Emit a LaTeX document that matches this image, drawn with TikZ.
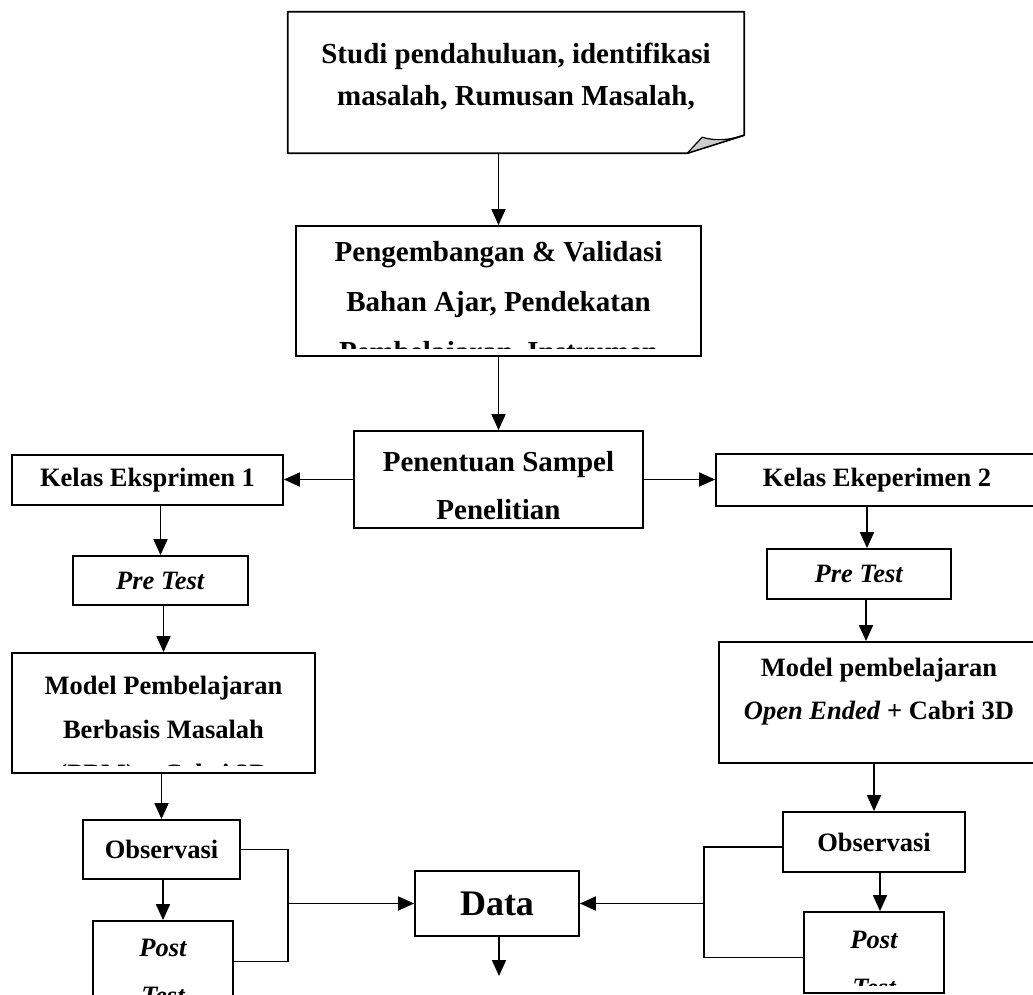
\documentclass[tikz,border=0pt]{standalone}
\usepackage{fontspec}
\setmainfont{Liberation Serif}
\usetikzlibrary{arrows.meta,positioning}
\tikzset{
  kotak/.style={draw,rectangle,line width=1.8pt,inner sep=0pt},
  garis/.style={line width=1.8pt},
  huruf/.style={font=\bfseries\fontsize{26.5}{44}\selectfont,align=center},
  judul/.style={font=\bfseries\fontsize{29}{48}\selectfont,align=center},
  isi/.style n args={3}{path picture={
      \clip ([yshift=8pt]path picture bounding box.south west) rectangle (path picture bounding box.north east);
      \node[#2] at ([yshift=#1]path picture bounding box.center) {#3};}}
}

\begin{document}
\begin{tikzpicture}[x=1pt,y=-1pt,>={Triangle[length=16pt,width=14pt]}]
        \clip (0,0) rectangle (1033,994);
        % kotak atas, sudut terlipat
        \node[minimum width=456pt,minimum height=141pt] (studi) at (516,82.5) {};
        \node[judul,font=\bfseries\fontsize{29}{42}\selectfont] (studitxt) at (516,77)
          {Studi pendahuluan, identifikasi\\masalah, Rumusan Masalah,};
        \draw[garis,line join=round] (studi.north west) -- (studi.north east)
          -- ([yshift=18pt]studi.south east) -- ([xshift=-57pt]studi.south east)
          -- (studi.south west) -- cycle;
        \filldraw[line width=1.2pt,fill=gray!40,line join=round] ([xshift=-57pt]studi.south east)
          -- ([xshift=-42pt,yshift=16pt]studi.south east)
          .. controls ([xshift=-30pt,yshift=12pt]studi.south east) and ([xshift=-14pt,yshift=13pt]studi.south east)
          .. ([yshift=18pt]studi.south east) -- cycle;

        \node[kotak,minimum width=405pt,minimum height=130pt,
          isi={-14pt}{judul,font=\bfseries\fontsize{29}{50}\selectfont}{Pengembangan \& Validasi\\Bahan Ajar, Pendekatan\\Pembelajaran, Instrumen}] (kembang) at (498.5,291) {};
        \node[kotak,minimum width=289pt,minimum height=97pt,
          isi={-6pt}{judul}{Penentuan Sampel\\Penelitian}] (sampel) at (498.5,479.5) {};

        % kelas eksperimen 1
        \node[kotak,huruf,minimum width=271pt,minimum height=50pt] (kelas1) at (147.5,480) {Kelas Eksprimen 1};
        \node[kotak,huruf,minimum width=175pt,minimum height=49pt] (pre1) at (160.5,580.5) {\textit{Pre Test}};
        \node[kotak,minimum width=303pt,minimum height=120pt,
          isi={-19pt}{huruf}{Model Pembelajaran\\Berbasis Masalah\\(PBM) + Cabri 3D}] (model1) at (163.5,713) {};
        \node[kotak,huruf,minimum width=157pt,minimum height=59pt] (obs1) at (161.5,849.5) {Observasi};
        \node[kotak,minimum width=140pt,minimum height=81pt,
          isi={-10pt}{huruf,font=\bfseries\itshape\fontsize{26.5}{48}\selectfont}{Post\\Test}] (post1) at (163,961.5) {};

        % kelas eksperimen 2
        \node[kotak,huruf,minimum width=322pt,minimum height=52pt] (kelas2) at (877,480) {Kelas Ekeperimen 2};
        \node[kotak,huruf,minimum width=184pt,minimum height=50pt] (pre2) at (859,574) {\textit{Pre Test}};
        \node[kotak,minimum width=320pt,minimum height=121pt,
          isi={11pt}{huruf,font=\bfseries\fontsize{26.5}{43}\selectfont}{Model pembelajaran\\\textit{Open Ended} + Cabri 3D}] (model2) at (879,702.5) {};
        \node[kotak,huruf,minimum width=182pt,minimum height=60pt] (obs2) at (874,842) {Observasi};
        \node[kotak,minimum width=140pt,minimum height=81pt,
          isi={-11pt}{huruf,font=\bfseries\itshape\fontsize{26.5}{48}\selectfont}{Post\\Test}] (post2) at (874,952.5) {};

        \node[kotak,font=\bfseries\fontsize{36}{40}\selectfont,minimum width=164pt,minimum height=65pt] (data) at (497,903.5) {Data};
        \coordinate (simpulkiri) at (288,903.5);
        \coordinate (simpulkanan) at (704,903.5);
        \coordinate (akhir) at (499,976);

        \draw[->,garis] (studi.south -| kembang.north) -- (kembang.north);
        \draw[->,garis] (kembang) -- (sampel);
        \draw[->,garis] (sampel.west) -- (sampel.west -| kelas1.east);
        \draw[->,garis] (sampel.east) -- (sampel.east -| kelas2.west);

        \draw[->,garis] (pre1.north |- kelas1.south) -- (pre1.north);
        \draw[->,garis] (pre1.south -| model1.north) -- (model1.north);
        \draw[->,garis] (model1.south -| obs1.north) -- (obs1.north);
        \draw[->,garis] (obs1.south -| post1.north) -- (post1.north);
        \draw[garis] (obs1.east) -| (simpulkiri) |- (post1.east);
        \draw[->,garis] (simpulkiri) -- (data.west);

        \draw[->,garis] ([xshift=-10pt]kelas2.south) -- ([xshift=-10pt]kelas2.south |- pre2.north);
        \draw[->,garis] ([xshift=7pt]pre2.south) -- ([xshift=7pt]pre2.south |- model2.north);
        \draw[->,garis] (obs2.north |- model2.south) -- (obs2.north);
        \draw[->,garis] ([xshift=6pt]obs2.south) -- ([xshift=6pt]obs2.south |- post2.north);
        \draw[garis] ([yshift=-5pt]obs2.west) -| (simpulkanan) |- ([yshift=-5pt]post2.west);
        \draw[->,garis] (simpulkanan) -- (data.east);

        \draw[->,garis] (data.south -| akhir) -- (akhir);
      \end{tikzpicture}
\end{document}
